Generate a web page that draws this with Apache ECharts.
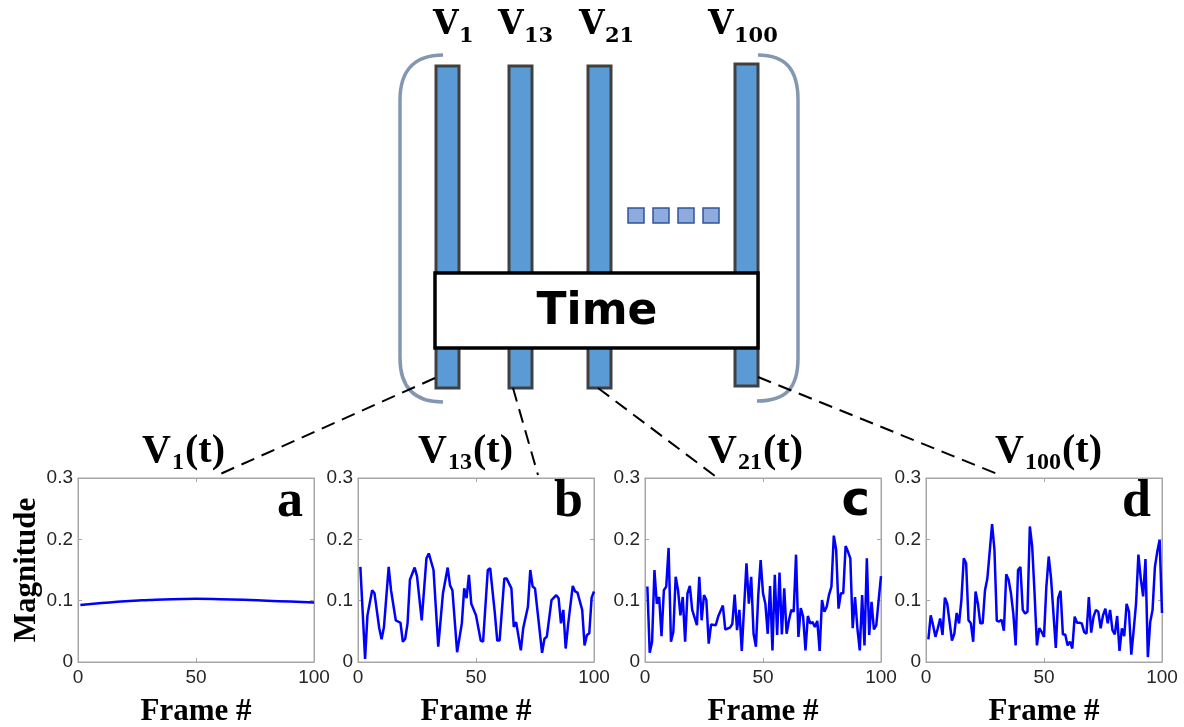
<!DOCTYPE html>
<html>
<head>
<meta charset="utf-8">
<script src="https://cdn.jsdelivr.net/npm/echarts@6/dist/echarts.min.js"></script>
<style>
  html, body { margin: 0; padding: 0; background: #fff; }
  #box { width: 1184px; height: 727px; }
</style>
</head>
<body>
<div id="box"></div>
<script>
// frame numbers and magnitudes
const framesA = [1, 10, 20, 30, 40, 50, 60, 70, 80, 90, 100];
const magA = [0.093, 0.096, 0.099, 0.101, 0.1025, 0.103, 0.1025, 0.1015, 0.1, 0.0985, 0.097];

const framesB = [1, 3, 4, 6, 7, 9, 10, 11, 13, 14, 16, 18, 19, 20, 21, 22, 24, 25, 27, 29,
  30, 32, 34, 36, 38, 39, 40, 42, 44, 45, 46, 47, 48, 50, 52, 53, 55, 56, 58, 59,
  60, 62, 63, 65, 66, 67, 69, 70, 72, 73, 74, 75, 78, 79, 80, 82, 84, 85, 86, 87,
  88, 89, 91, 92, 93, 95, 96, 97, 98, 99, 100];
const magB = [0.155, 0.005, 0.076, 0.117, 0.112, 0.055, 0.037, 0.057, 0.155, 0.117, 0.068, 0.064, 0.033, 0.038, 0.063, 0.134, 0.154, 0.140, 0.068, 0.169,
  0.177, 0.150, 0.025, 0.112, 0.154, 0.125, 0.117, 0.016, 0.063, 0.120, 0.104, 0.142, 0.095, 0.076, 0.035, 0.033, 0.150, 0.153, 0.079, 0.035,
  0.035, 0.136, 0.136, 0.120, 0.057, 0.065, 0.019, 0.055, 0.090, 0.150, 0.123, 0.120, 0.015, 0.038, 0.041, 0.101, 0.109, 0.104, 0.063, 0.085,
  0.022, 0.060, 0.124, 0.115, 0.113, 0.085, 0.027, 0.044, 0.047, 0.105, 0.115];

const framesC = [1, 2, 3, 4, 5, 6, 7, 8, 9, 10, 11, 12, 13, 14, 15, 16, 17, 18, 19, 20,
  22, 23, 24, 25, 26, 27, 28, 30, 31, 33, 34, 36, 37, 38, 39, 40, 41, 43, 44, 45,
  46, 47, 48, 49, 50, 51, 52, 53, 54, 55, 56, 57, 58, 59, 60, 61, 62, 63, 64, 65,
  66, 67, 68, 69, 70, 71, 72, 73, 74, 75, 76, 77, 78, 79, 80, 81, 82, 83, 84, 85,
  86, 87, 88, 89, 90, 91, 92, 93, 94, 95, 96, 97, 98, 99, 100];
const magC = [0.123, 0.015, 0.033, 0.150, 0.095, 0.106, 0.042, 0.117, 0.123, 0.186, 0.033, 0.049, 0.139, 0.117, 0.076, 0.106, 0.033, 0.112, 0.124, 0.085,
  0.060, 0.139, 0.068, 0.109, 0.101, 0.030, 0.061, 0.060, 0.074, 0.092, 0.053, 0.056, 0.062, 0.110, 0.052, 0.085, 0.018, 0.161, 0.095, 0.139,
  0.046, 0.025, 0.109, 0.166, 0.112, 0.095, 0.046, 0.124, 0.019, 0.142, 0.044, 0.146, 0.045, 0.120, 0.046, 0.068, 0.085, 0.082, 0.175, 0.041,
  0.088, 0.074, 0.019, 0.075, 0.063, 0.065, 0.057, 0.067, 0.018, 0.101, 0.082, 0.090, 0.110, 0.123, 0.206, 0.183, 0.087, 0.112, 0.112, 0.189,
  0.180, 0.169, 0.055, 0.106, 0.055, 0.019, 0.109, 0.027, 0.169, 0.044, 0.098, 0.053, 0.060, 0.101, 0.140];

const framesD = [1, 2, 3, 4, 5, 6, 7, 8, 9, 10, 11, 12, 13, 14, 15, 16, 17, 18, 19, 20,
  21, 22, 23, 24, 25, 26, 28, 29, 30, 31, 32, 33, 34, 35, 36, 37, 38, 39, 40, 41,
  42, 43, 44, 45, 46, 47, 48, 49, 50, 51, 52, 53, 55, 56, 57, 58, 59, 60, 61, 62,
  63, 64, 65, 66, 67, 68, 69, 70, 71, 72, 73, 74, 75, 76, 77, 78, 79, 80, 81, 82,
  83, 84, 85, 86, 87, 88, 89, 90, 91, 92, 93, 94, 95, 96, 97, 98, 99, 100];
const magD = [0.037, 0.076, 0.060, 0.041, 0.055, 0.071, 0.044, 0.105, 0.095, 0.065, 0.035, 0.046, 0.080, 0.063, 0.101, 0.169, 0.161, 0.068, 0.063, 0.033,
  0.115, 0.095, 0.063, 0.063, 0.117, 0.136, 0.225, 0.183, 0.067, 0.066, 0.069, 0.051, 0.143, 0.134, 0.112, 0.079, 0.027, 0.150, 0.155, 0.085,
  0.079, 0.082, 0.221, 0.188, 0.112, 0.027, 0.055, 0.049, 0.041, 0.123, 0.172, 0.136, 0.023, 0.104, 0.116, 0.045, 0.045, 0.027, 0.033, 0.022,
  0.074, 0.064, 0.064, 0.063, 0.049, 0.046, 0.106, 0.048, 0.074, 0.085, 0.082, 0.055, 0.076, 0.087, 0.063, 0.085, 0.052, 0.045, 0.075, 0.018,
  0.055, 0.042, 0.095, 0.082, 0.012, 0.052, 0.095, 0.175, 0.136, 0.107, 0.168, 0.008, 0.065, 0.085, 0.155, 0.180, 0.199, 0.080];

const panelLetters = ["a", "b", "c", "d"];
const vectorIds = ["1", "13", "21", "100"];
const xTicks = [0, 50, 100];
const yTicks = [0, 0.1, 0.2, 0.3];

const frames = [framesA, framesB, framesC, framesD];
const mags = [magA, magB, magC, magD];

// layout
const gridLefts = [78, 358, 645, 926];
const gridTop = 478, gridW = 236, gridH = 184;
const axisGray = "#a6a6a6";
const textDark = "#262626";
const serif = "Liberation Serif";

const myChart = echarts.init(document.getElementById("box"));

const grids = [], xAxes = [], yAxes = [], series = [];
const boxLine = { show: true, onZero: false, lineStyle: { color: axisGray, width: 1 } };
const boxTick = { show: true, inside: true, length: 4, lineStyle: { color: axisGray } };
gridLefts.forEach((left, i) => {
  grids.push({
    left: left, top: gridTop, width: gridW, height: gridH,
    show: true, borderColor: axisGray, borderWidth: 1,
    outerBoundsMode: "none", containLabel: false,
  });
  xAxes.push({
    gridIndex: i, type: "value", min: xTicks[0], max: xTicks[xTicks.length - 1], interval: xTicks[1] - xTicks[0],
    axisLine: boxLine, axisTick: boxTick, splitLine: { show: false },
    axisLabel: { color: textDark, fontSize: 19, fontFamily: "Liberation Sans", margin: 6 },
    name: "Frame #", nameLocation: "middle", nameGap: 34,
    nameTextStyle: { fontFamily: serif, fontWeight: "bold", fontSize: 31, color: "#000" },
  });
  yAxes.push({
    gridIndex: i, type: "value", min: yTicks[0], max: yTicks[yTicks.length - 1], interval: yTicks[1] - yTicks[0],
    axisLine: boxLine, axisTick: boxTick, splitLine: { show: false },
    axisLabel: {
      color: textDark, fontSize: 19, fontFamily: "Liberation Sans", margin: 5,
      formatter: (v) => (v === 0 ? "0" : v.toFixed(1)),
    },
    name: i === 0 ? "Magnitude" : "", nameLocation: "middle", nameGap: 33,
    nameTextStyle: { fontFamily: serif, fontWeight: "bold", fontSize: 31, color: "#000" },
  });
  series.push({
    type: "line", xAxisIndex: i, yAxisIndex: i,
    data: frames[i].map((f, k) => [f, mags[i][k]]),
    symbol: "none", smooth: i === 0,
    lineStyle: { color: "#0000ff", width: 2.5 },
  });
});
// mirrored box sides (top / right) with inward ticks
gridLefts.forEach((left, i) => {
  xAxes.push({
    gridIndex: i, type: "value", position: "top", min: 0, max: 100, interval: 50,
    axisLine: boxLine, axisTick: boxTick, axisLabel: { show: false }, splitLine: { show: false },
  });
  yAxes.push({
    gridIndex: i, type: "value", position: "right", min: 0, max: 0.3, interval: 0.1,
    axisLine: boxLine, axisTick: boxTick, axisLabel: { show: false }, splitLine: { show: false },
  });
});

// diagram on top
const gfx = [];
const bracketStyle = { fill: null, stroke: "#8497b0", lineWidth: 3.5 };
// left bracket
gfx.push({ type: "bezierCurve", z: 1, shape: { x1: 443, y1: 55, cpx1: 415, cpy1: 55, cpx2: 400, cpy2: 70, x2: 400, y2: 100 }, style: bracketStyle });
gfx.push({ type: "line", z: 1, shape: { x1: 400, y1: 100, x2: 400, y2: 358 }, style: bracketStyle });
gfx.push({ type: "bezierCurve", z: 1, shape: { x1: 400, y1: 358, cpx1: 400, cpy1: 388, cpx2: 415, cpy2: 402, x2: 443, y2: 402 }, style: bracketStyle });
// right bracket
gfx.push({ type: "bezierCurve", z: 1, shape: { x1: 758, y1: 55, cpx1: 786, cpy1: 55, cpx2: 798, cpy2: 70, x2: 798, y2: 100 }, style: bracketStyle });
gfx.push({ type: "line", z: 1, shape: { x1: 798, y1: 100, x2: 798, y2: 358 }, style: bracketStyle });
gfx.push({ type: "bezierCurve", z: 1, shape: { x1: 798, y1: 358, cpx1: 798, cpy1: 388, cpx2: 786, cpy2: 401, x2: 757, y2: 401 }, style: bracketStyle });

const barXs = [436, 509, 588, 735];
barXs.forEach((x, i) => {
  gfx.push({
    type: "rect", z: 2,
    shape: { x: x, y: i === 3 ? 64 : 66, width: 23, height: 322 },
    style: { fill: "#5b9bd5", stroke: "#404040", lineWidth: 3 },
  });
});
[628, 653, 678, 703].forEach((x) => {
  gfx.push({
    type: "rect", z: 2,
    shape: { x: x, y: 208, width: 16, height: 15 },
    style: { fill: "#8faadc", stroke: "#2f5597", lineWidth: 1.5 },
  });
});
gfx.push({
  type: "rect", z: 3,
  shape: { x: 435, y: 273, width: 323, height: 75 },
  style: { fill: "#fff", stroke: "#000", lineWidth: 3.5 },
});
gfx.push({
  type: "text", z: 4, x: 597, y: 313,
  style: { text: "Time", font: "bold 44px 'DejaVu Sans'", fill: "#000", align: "center", verticalAlign: "middle" },
});
// top labels V_k
const topV = [433, 498, 579, 708];
vectorIds.forEach((id, i) => {
  gfx.push({
    type: "text", z: 4, x: topV[i], y: 25,
    style: { text: "V", font: "bold 33px 'DejaVu Serif'", fill: "#000", align: "left", verticalAlign: "middle" },
  });
  gfx.push({
    type: "text", z: 4, x: topV[i] + 26, y: 37,
    style: { text: id, font: "bold 21px 'DejaVu Serif'", fill: "#000", align: "left", verticalAlign: "middle" },
  });
});
// dashed connectors
const connectors = [
  [435, 378, 218, 475],
  [513, 388, 538, 475],
  [598, 388, 715, 476],
  [758, 377, 1000, 475],
];
connectors.forEach((c) => {
  gfx.push({
    type: "line", z: 5,
    shape: { x1: c[0], y1: c[1], x2: c[2], y2: c[3] },
    style: { stroke: "#000", lineWidth: 2, lineDash: [14, 8] },
  });
});
// panel titles V_k(t)
const titleV = [142, 418, 708, 995];
vectorIds.forEach((id, i) => {
  const subW = id.length * 12;
  gfx.push({
    type: "text", z: 4, x: titleV[i], y: 452,
    style: { text: "V", font: "bold 40px '" + serif + "'", fill: "#000", align: "left", verticalAlign: "middle" },
  });
  gfx.push({
    type: "text", z: 4, x: titleV[i] + 30, y: 463,
    style: { text: id, font: "bold 24px '" + serif + "'", fill: "#000", align: "left", verticalAlign: "middle" },
  });
  gfx.push({
    type: "text", z: 4, x: titleV[i] + 31 + subW, y: 452,
    style: { text: "(t)", font: "bold 40px '" + serif + "'", fill: "#000", align: "left", verticalAlign: "middle" },
  });
});
// panel letters
panelLetters.forEach((l, i) => {
  gfx.push({
    type: "text", z: 6, x: gridLefts[i] + gridW - 11, y: 503,
    style: {
      text: l, fill: "#000", align: "right", verticalAlign: "middle",
      font: l === "c" ? "bold 48px 'DejaVu Sans'" : "bold 52px '" + serif + "'",
    },
  });
});

const option = {
  animation: false,
  backgroundColor: "#fff",
  grid: grids,
  xAxis: xAxes,
  yAxis: yAxes,
  series: series,
  graphic: gfx,
};
myChart.setOption(option);
</script>
</body>
</html>
